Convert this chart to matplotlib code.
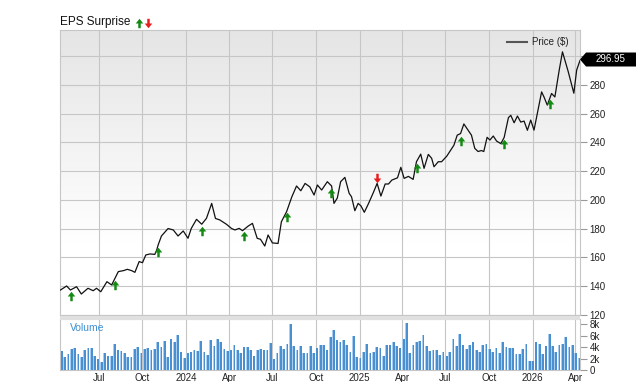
import matplotlib
matplotlib.use("Agg")
import matplotlib.pyplot as plt
import matplotlib.dates as mdates
import matplotlib.transforms as mtransforms
from matplotlib.path import Path
from matplotlib.patches import Polygon, Rectangle
from matplotlib.lines import Line2D
from matplotlib.colors import LinearSegmentedColormap
import numpy as np
import pandas as pd

plt.rcParams['font.family'] = ['Liberation Sans', 'DejaVu Sans']

# price line
price_dates = [
    "2023-04-11", "2023-04-24", "2023-05-02", "2023-05-15", "2023-05-25", "2023-06-08",
    "2023-06-19", "2023-06-26", "2023-07-05", "2023-07-18", "2023-07-28", "2023-08-11",
    "2023-08-22", "2023-08-30", "2023-09-08", "2023-09-15", "2023-09-24", "2023-10-01",
    "2023-10-08", "2023-10-17", "2023-10-27", "2023-10-31", "2023-11-03", "2023-11-10",
    "2023-11-24", "2023-12-05", "2023-12-15", "2023-12-26", "2024-01-05", "2024-01-12",
    "2024-01-23", "2024-02-03", "2024-02-13", "2024-02-24", "2024-03-03", "2024-03-12",
    "2024-03-26", "2024-04-06", "2024-04-13", "2024-04-22", "2024-04-29", "2024-05-11",
    "2024-05-20", "2024-05-30", "2024-06-06", "2024-06-15", "2024-06-22", "2024-07-01",
    "2024-07-13", "2024-07-20", "2024-07-31", "2024-08-11", "2024-08-21", "2024-08-30",
    "2024-09-08", "2024-09-18", "2024-09-27", "2024-10-04", "2024-10-13", "2024-10-25",
    "2024-11-03", "2024-11-08", "2024-11-15", "2024-11-22", "2024-12-01", "2024-12-10",
    "2024-12-15", "2024-12-22", "2024-12-29", "2025-01-04", "2025-01-11", "2025-01-20",
    "2025-01-30", "2025-02-07", "2025-02-15", "2025-02-24", "2025-03-03", "2025-03-10",
    "2025-03-22", "2025-03-29", "2025-04-05", "2025-04-14", "2025-04-24", "2025-05-01",
    "2025-05-10", "2025-05-17", "2025-05-26", "2025-06-02", "2025-06-07", "2025-06-16",
    "2025-06-23", "2025-07-04", "2025-07-19", "2025-07-26", "2025-08-02", "2025-08-09",
    "2025-08-18", "2025-08-25", "2025-09-01", "2025-09-08", "2025-09-15", "2025-09-20",
    "2025-09-27", "2025-10-03", "2025-10-10", "2025-10-17", "2025-10-26", "2025-11-02",
    "2025-11-11", "2025-11-16", "2025-11-23", "2025-11-30", "2025-12-07", "2025-12-14",
    "2025-12-21", "2025-12-28", "2026-01-04", "2026-01-13", "2026-01-20", "2026-01-25",
    "2026-02-01", "2026-02-10", "2026-02-17", "2026-02-26", "2026-03-05", "2026-03-17",
    "2026-03-29", "2026-04-04", "2026-04-11",
]
price_values = [
    137.2, 140.0, 137.2, 139.5, 134.4, 138.4,
    136.7, 138.4, 136.0, 143.0, 140.7, 150.0,
    150.7, 151.6, 150.7, 149.5, 157.0, 156.2,
    161.6, 162.3, 162.0, 165.0, 168.5, 174.8,
    180.0, 179.0, 174.8, 178.3, 173.2, 180.1,
    186.4, 183.0, 187.1, 197.5, 187.0, 186.0,
    183.0, 180.0, 179.0, 180.1, 178.5, 181.7,
    183.6, 173.2, 172.5, 167.8, 175.5, 170.0,
    169.6, 184.7, 191.7, 202.0, 209.6, 206.3,
    211.4, 209.0, 203.3, 210.3, 206.8, 212.6,
    209.6, 197.5, 201.2, 212.6, 215.6, 204.5,
    202.1, 192.4, 197.5, 195.7, 191.3, 197.5,
    205.0, 211.4, 202.6, 211.0, 211.0, 213.7,
    215.3, 222.6, 214.9, 216.3, 214.2, 226.5,
    231.8, 221.9, 231.6, 228.9, 223.0, 226.5,
    226.5, 230.4, 238.0, 245.0, 246.1, 252.8,
    248.4, 245.0, 235.8, 233.6, 234.3, 233.6,
    243.5, 241.6, 244.4, 240.9, 239.1, 243.4,
    257.2, 258.8, 253.6, 258.3, 254.1, 254.8,
    248.4, 255.5, 248.5, 263.6, 275.1, 271.6,
    265.9, 274.0, 271.6, 290.0, 303.0, 289.4,
    274.2, 290.4, 296.95,
]
last_price = "296.95"

# EPS surprise markers (1 = beat, -1 = miss)
surprise_dates = [
    "2023-05-04", "2023-08-04", "2023-11-03", "2024-02-03", "2024-05-03", "2024-08-01",
    "2024-11-02", "2025-02-07", "2025-05-02", "2025-08-02", "2025-11-02", "2026-02-07",
]
surprise_dirs = [1, 1, 1, 1, 1, 1, 1, -1, 1, 1, 1, 1]

# weekly volume, thousands
volume_start = "2023-04-13"
volume = [
    3.3, 2.3, 2.8, 3.7, 3.8, 2.8, 2.3, 3.4, 3.8, 3.8,
    2.4, 2.0, 1.4, 3.0, 2.4, 2.4, 4.5, 3.5, 3.3, 2.9,
    2.3, 2.3, 3.7, 4.0, 3.0, 3.7, 3.9, 3.5, 3.7, 4.9,
    4.0, 5.1, 2.3, 5.4, 4.9, 6.1, 3.1, 2.1, 3.0, 3.2,
    3.4, 3.3, 5.0, 3.1, 2.6, 5.2, 4.1, 5.4, 4.9, 3.7,
    3.3, 3.5, 4.3, 3.5, 3.0, 4.0, 4.0, 3.4, 2.5, 3.4,
    3.7, 3.5, 3.5, 4.7, 1.9, 3.0, 4.2, 3.7, 4.5, 8.0,
    4.2, 3.5, 4.2, 3.0, 2.9, 4.1, 3.0, 3.8,
    4.3, 4.3, 3.4, 5.7, 7.0, 5.2, 4.8, 5.2, 4.3, 3.2,
    5.9, 2.2, 2.1, 3.1, 4.6, 2.9, 3.1, 4.0, 3.9, 2.4,
    4.4, 4.4, 4.9, 4.2, 3.8, 5.4, 8.2, 3.0, 4.4, 4.9,
    5.0, 6.1, 4.2, 3.3, 3.5, 3.4, 2.6, 3.2, 2.4, 3.2,
    5.4, 4.2, 6.3, 4.4, 3.7, 4.4, 4.9, 3.5, 3.1, 4.4,
    4.6, 3.7, 3.2, 3.9, 2.9, 4.9, 4.0, 3.8, 3.8, 2.8,
    2.8, 3.6, 4.6, 1.6, 1.6, 4.9, 4.5, 2.8, 4.1, 6.3,
    4.2, 3.2, 4.4, 4.6, 5.8, 4.0, 4.3, 2.9, 2.1,
]

x_ticks = ["2023-07-01", "2023-10-01", "2024-01-01", "2024-04-01", "2024-07-01", "2024-10-01",
           "2025-01-01", "2025-04-01", "2025-07-01", "2025-10-01", "2026-01-01", "2026-04-01"]
x_labels = ["Jul", "Oct", "2024", "Apr", "Jul", "Oct", "2025", "Apr", "Jul", "Oct", "2026", "Apr"]
price_ticks = [120, 140, 160, 180, 200, 220, 240, 260, 280]
volume_ticks = [0, 2, 4, 6, 8]

W, H = 640, 382
grid_c = "#c6c6c6"
green = "#138a13"
red = "#e81c1c"


def fx(px):
    return px / W


def fy(py):
    return 1 - py / H


# arrow marker
arrow_up = Path([(-0.13, -0.5), (0.13, -0.5), (0.13, 0.0), (0.4, 0.0), (0.0, 0.5),
                 (-0.4, 0.0), (-0.13, 0.0), (-0.13, -0.5)])
arrow_down = Path([(x, -y) for x, y in arrow_up.vertices])

fig = plt.figure(figsize=(6.4, 3.82), dpi=100)
ax = fig.add_axes([fx(60), fy(315), fx(520), (315 - 30) / H])
axv = fig.add_axes([fx(60), fy(370), fx(520), (370 - 319) / H])

x0, x1 = pd.Timestamp("2023-04-10"), pd.Timestamp("2026-04-11")

# background gradient of the price panel
g = np.clip((np.linspace(0, 1, 256) - 0.25) / 0.75, 0, 1).reshape(-1, 1)
cmap = LinearSegmentedColormap.from_list("bg", ["#ffffff", "#e5e5e5"])
ax.imshow(g, extent=[0, 1, 0, 1], transform=ax.transAxes, origin="lower",
          aspect="auto", cmap=cmap, zorder=0, interpolation="bilinear")

pd_dates = pd.to_datetime(price_dates)
ax.plot(pd_dates, price_values, color="#111111", lw=0.9, zorder=3)

# surprise arrows sit just under (beat) or over (miss) the line
sd = pd.to_datetime(surprise_dates)
sy = np.interp(mdates.date2num(sd), mdates.date2num(pd_dates), price_values)
for d, y, k in zip(sd, sy, surprise_dirs):
    off = mtransforms.ScaledTranslation(0, (-7 if k > 0 else 5) / 100, fig.dpi_scale_trans)
    ax.plot([d], [y], marker=arrow_up if k > 0 else arrow_down, ms=6.8, ls="none",
            color=green if k > 0 else red, mec="none", zorder=4,
            transform=ax.transData + off)

ax.set_xlim(x0, x1)
ax.set_ylim(119.8, 318.2)
ax.set_yticks(price_ticks + [300])
ax.set_yticklabels([str(t) for t in price_ticks] + [""])
ax.yaxis.tick_right()
ax.set_xticks(pd.to_datetime(x_ticks))
ax.set_xticklabels([])
ax.tick_params(axis="x", length=0)
ax.tick_params(axis="y", length=5, color="#999999", labelsize=7, pad=2, labelcolor="#222222")
ax.grid(True, color=grid_c, lw=0.8)
for s in ax.spines.values():
    s.set_color(grid_c)
    s.set_linewidth(0.8)

# volume panel
vd = pd.date_range(volume_start, periods=len(volume), freq="7D")
axv.bar(vd - pd.Timedelta(days=2.8), volume, width=5.6, align="edge", color="#a9cdef", lw=0, zorder=2)
axv.bar(vd - pd.Timedelta(days=0.9), volume, width=3.7, align="edge", color="#4a8fd0", lw=0, zorder=3)
axv.set_xlim(x0, x1)
axv.set_ylim(0, 8.87)
axv.yaxis.tick_right()
axv.set_yticks(volume_ticks)
axv.set_yticklabels(["0"] + ["%dk" % v for v in volume_ticks[1:]])
axv.set_xticks(pd.to_datetime(x_ticks))
axv.set_xticklabels(x_labels)
axv.tick_params(axis="x", length=0, labelsize=7, pad=2, labelcolor="#222222")
axv.tick_params(axis="y", length=5, color="#999999", labelsize=7, pad=2, labelcolor="#222222")
axv.grid(True, axis="x", color=grid_c, lw=0.8, zorder=0)
axv.set_axisbelow(True)
for s in axv.spines.values():
    s.set_color(grid_c)
    s.set_linewidth(0.8)
axv.text(0.02, 0.82, "Volume", transform=axv.transAxes, color="#3d8fd1", fontsize=7.5, va="center")

# band between the panels
fig.add_artist(Rectangle((fx(60), fy(319.5)), fx(520), 3.5 / H, transform=fig.transFigure,
                         color="#e0e0e0", lw=0))

# header
fig.text(fx(60), fy(22.5), "EPS Surprise", fontsize=8.5, va="center", ha="left", color="#111111")
fig.add_artist(Line2D([fx(139)], [fy(23)], marker=arrow_up, ms=6.8, color=green, mec="none",
                      transform=fig.transFigure))
fig.add_artist(Line2D([fx(148)], [fy(23)], marker=arrow_down, ms=6.8, color=red, mec="none",
                      transform=fig.transFigure))

# legend
fig.add_artist(Line2D([fx(507), fx(527)], [fy(42), fy(42)], color="#555555", lw=1.5,
                      transform=fig.transFigure))
fig.text(fx(532), fy(42), "Price ($)", fontsize=7, va="center", ha="left", color="#222222")

# last price tag
tag = [(580, 59.5), (586, 52.5), (636, 52.5), (636, 66.5), (586, 66.5)]
fig.add_artist(Polygon([(fx(a), fy(b)) for a, b in tag], closed=True, transform=fig.transFigure,
                       color="black", lw=0))
fig.text(fx(611), fy(59.5), last_price, fontsize=7, color="white", ha="center", va="center")

fig.savefig("out.png", dpi=100)
